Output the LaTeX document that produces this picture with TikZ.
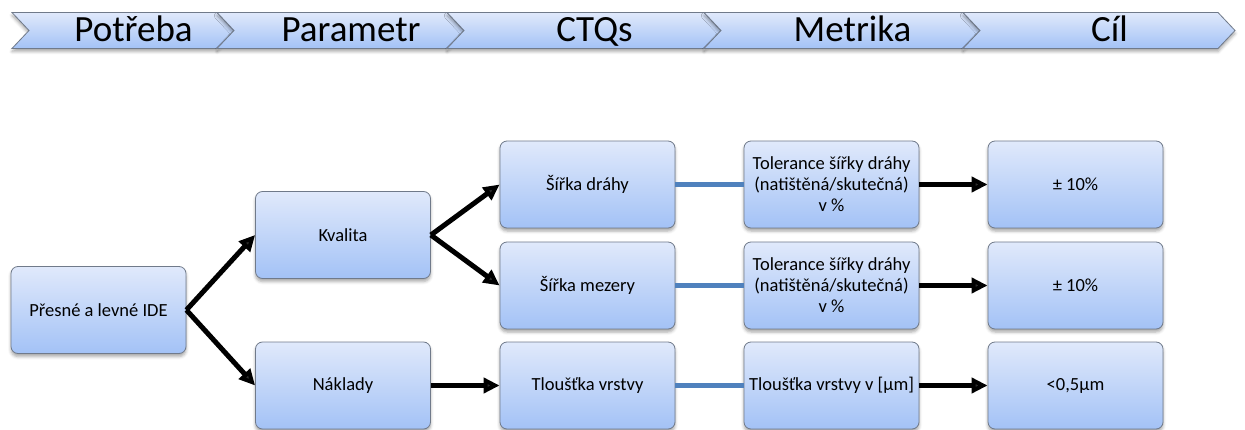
\documentclass[tikz,border=0pt]{standalone}
\usepackage{fontspec}
\setmainfont{Carlito}
\usetikzlibrary{arrows.meta,shadows.blur}

\definecolor{boxtop}{RGB}{224,233,251}
\definecolor{boxbot}{RGB}{163,194,246}
\definecolor{boxline}{RGB}{112,122,138}
\definecolor{linkblue}{RGB}{79,129,189}

\tikzset{
  box/.style={draw=boxline, line width=0.8pt, rounded corners=7pt,
    top color=boxtop, bottom color=boxbot,
    minimum width=175pt, minimum height=87pt, inner sep=1pt, align=center,
    font=\fontsize{18.5}{21}\selectfont,
    blur shadow={shadow xshift=0pt, shadow yshift=-3pt, shadow blur radius=3pt, shadow opacity=35}},
  chev/.style={draw=boxline, line width=0.8pt, top color=boxtop, bottom color=boxbot,
    blur shadow={shadow xshift=0pt, shadow yshift=-3pt, shadow blur radius=3pt, shadow opacity=35}},
  chevtext/.style={font=\fontsize{37}{40}\selectfont, inner sep=0pt, anchor=base},
  flow/.style={line width=5pt, -{Triangle[length=16pt,width=15pt]}},
  link/.style={draw=linkblue, line width=5pt}
}

\begin{document}
\begin{tikzpicture}[x=1pt,y=-1pt]
\useasboundingbox (0,0) rectangle (1245,430);

% stage chevrons across the top
\foreach \l/\r/\txt/\nm in {12/217/Potřeba/s1, 217/447/Parametr/s2, 447/704/CTQs/s3, 704/963/Metrika/s4, 963/1218/Cíl/s5}{
  \path[chev] (\l,12.5) -- (\r,12.5) -- (\r+17,30.5) -- (\r,48.5) -- (\l,48.5) -- (\l+17,30.5) -- cycle;
  \node[chevtext] (\nm) at ({(\l+\r+34)/2+2},41.5) {\txt};
}

% tree of boxes
\node[box] (need)  at (98.5,310)   {Přesné a levné IDE};
\node[box] (qual)  at (343,235)    {Kvalita};
\node[box] (cost)  at (343,385.5)  {Náklady};
\node[box] (trw)   at (587.5,184.5){Šířka dráhy};
\node[box] (gapw)  at (587.5,285.5){Šířka mezery};
\node[box] (thk)   at (587.5,385.5){Tloušťka vrstvy};
\node[box] (m1)    at (831.5,184.5){Tolerance šířky dráhy\\(natištěná/skutečná)\\v \%};
\node[box] (m2)    at (831.5,285.5){Tolerance šířky dráhy\\(natištěná/skutečná)\\v \%};
\node[box] (m3)    at (831.5,385.5){Tloušťka vrstvy v [µm]};
\node[box] (g1)    at (1075.5,184.5){± 10\%};
\node[box] (g2)    at (1075.5,285.5){± 10\%};
\node[box] (g3)    at (1075.5,385.5){<0,5µm};

% connectors
\draw[flow] (need.east) -- (qual.west);
\draw[flow] (need.east) -- (cost.west);
\draw[flow] (qual.east) -- (trw.west);
\draw[flow] (qual.east) -- (gapw.west);
\draw[flow] (cost.east) -- (thk.west);
\draw[link] (trw.east) -- (m1.west);
\draw[link] (gapw.east) -- (m2.west);
\draw[link] (thk.east) -- (m3.west);
\draw[flow] (m1.east) -- (g1.west);
\draw[flow] (m2.east) -- (g2.west);
\draw[flow] (m3.east) -- (g3.west);
\end{tikzpicture}
\end{document}
